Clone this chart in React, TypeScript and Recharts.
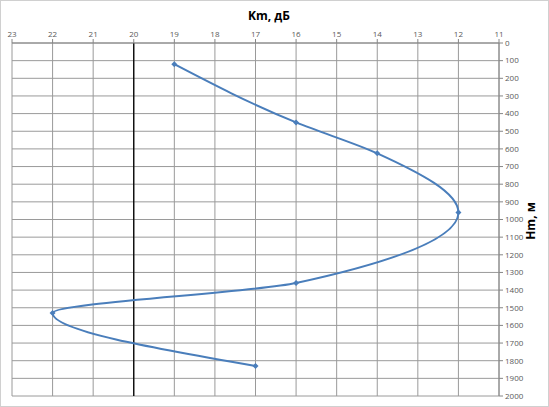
import React from 'react';
import { CartesianGrid, ReferenceLine, Scatter, ScatterChart, XAxis, YAxis } from 'recharts';

const kmValues = [19, 16, 14, 12, 16, 22, 17];
const hmValues = [120, 450, 625, 960, 1360, 1530, 1830];
const kmTicks = [23, 22, 21, 20, 19, 18, 17, 16, 15, 14, 13, 12, 11];
const hmTicks = Array.from({ length: 21 }, (_, i) => i * 100);
const limitKm = 20;

const data = kmValues.map((km, i) => ({ km, hm: hmValues[i] }));

const font = '"Open Sans", "Noto Sans", sans-serif';
const tick = { fontSize: 8, fill: '#595959', fontFamily: font };
const blue = '#4a7ebb';

// small Excel-style diamond marker
const Diamond = (props: any) => {
  const { cx, cy } = props;
  const r = 3;
  return <path d={`M${cx},${cy - r}L${cx + r},${cy}L${cx},${cy + r}L${cx - r},${cy}Z`} fill={blue} />;
};

export default function App() {
  return (
    <div style={{ position: 'absolute', left: 0, top: 0, width: 549, height: 407, background: '#fff', border: '1px solid #d0d0d0', boxSizing: 'border-box' }}>
      <div style={{ position: 'absolute', left: 0, top: 6, width: 536, textAlign: 'center', fontFamily: font, fontWeight: 700, fontSize: 12 }}>Km, дБ</div>
      <div style={{ position: 'absolute', left: 529, top: 220, transform: 'translate(-50%, -50%) rotate(-90deg)', fontFamily: font, fontWeight: 700, fontSize: 12, whiteSpace: 'nowrap' }}>Hm, м</div>
      <ScatterChart width={547} height={405} margin={{ top: 22, right: 14, bottom: 10, left: 11 }}>
        <CartesianGrid stroke="#9a9a9a" strokeWidth={1} />
        <XAxis
          type="number"
          dataKey="km"
          orientation="top"
          domain={[11, 23]}
          ticks={kmTicks}
          reversed
          height={20}
          tick={tick}
          tickSize={4}
          stroke="#868686"
          interval={0}
        />
        <YAxis
          type="number"
          dataKey="hm"
          orientation="right"
          domain={[0, 2000]}
          ticks={hmTicks}
          reversed
          width={35}
          tick={tick}
          tickSize={4}
          stroke="#868686"
          interval={0}
        />
        <ReferenceLine x={limitKm} stroke="#000" strokeWidth={1.3} />
        <Scatter
          data={data}
          fill={blue}
          shape={<Diamond />}
          line={{ stroke: blue, strokeWidth: 2 }}
          lineJointType="monotoneY"
          isAnimationActive={false}
        />
      </ScatterChart>
    </div>
  );
}
